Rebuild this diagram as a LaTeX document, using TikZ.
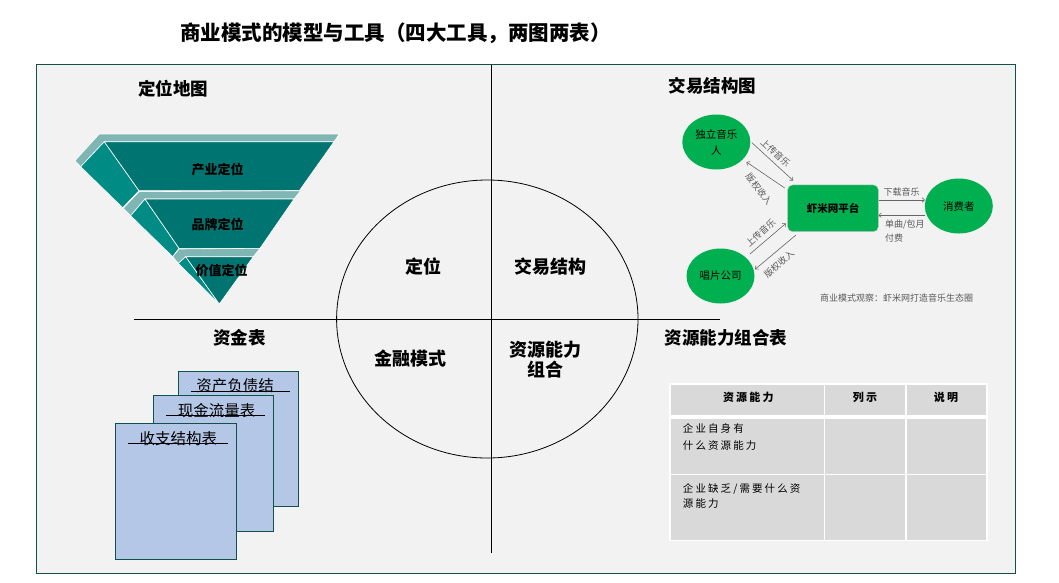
\documentclass[tikz,border=0pt]{standalone}
\usepackage{fontspec}
\setmainfont{Noto Sans CJK SC}
\newfontfamily\tabfont[LetterSpace=20]{Noto Sans CJK SC}
\usetikzlibrary{arrows.meta,shapes.geometric}
\definecolor{frameteal}{RGB}{18,80,74}
\definecolor{panel}{RGB}{242,242,242}
\definecolor{tealdark}{RGB}{0,116,112}
\definecolor{tealside}{RGB}{0,140,132}
\definecolor{teallight}{RGB}{127,181,178}
\definecolor{xiami}{RGB}{0,176,80}
\definecolor{sheet}{RGB}{180,199,231}
\definecolor{cell}{RGB}{217,217,217}
\tikzset{
  head/.style={font=\bfseries\fontsize{17.5}{20}\selectfont},
  core/.style={font=\bfseries\fontsize{18}{19.3}\selectfont,align=center},
  layer/.style={draw=white,line width=0.6pt},
  party/.style={ellipse,fill=xiami,minimum width=68pt,minimum height=55pt,inner sep=0pt,align=center,font=\fontsize{10.5}{16}\selectfont},
  flow/.style={draw=black!60,line width=0.6pt,-{To[length=3pt,width=5pt]}},
  flowtext/.style={text=black!65,font=\fontsize{9}{14}\selectfont,inner sep=0pt},
  bill/.style={draw=frameteal,fill=sheet,line width=0.8pt,inner sep=0pt},
  billtext/.style={font=\fontsize{15.5}{17}\selectfont,inner sep=0pt},
  cellhead/.style={font=\tabfont\bfseries\fontsize{11}{13}\selectfont,inner sep=0pt},
  celltext/.style={font=\tabfont\fontsize{10.5}{17.7}\selectfont,inner sep=0pt,align=left,anchor=north west}
}
\begin{document}
\begin{tikzpicture}[x=1pt,y=-1pt]
	\useasboundingbox (0,0) rectangle (1059,582);
	\node[font=\bfseries\fontsize{20.5}{22}\selectfont] (title) at (395.5,33) {商业模式的模型与工具（四大工具，两图两表）};
	\draw[frameteal,fill=panel,line width=1.2pt] (36.5,64.5) rectangle (1015.5,573.5);
	% quadrants
	\draw[line width=0.9pt] (491,65) -- (491,552.7);
	\draw[line width=0.9pt] (134,319.5) -- (720,319.5);
	\draw[line width=0.8pt] (487.3,319) ellipse (150.7 and 139);
	\node[core] (pos) at (423.5,266.7) {定位};
	\node[core] (deal) at (550,266.7) {交易结构};
	\node[core] (fin) at (410.3,358.3) {金融模式};
	\node[core] (res) at (545,359.7) {资源能力\\组合};
	\node[head] (posmap) at (173,89) {定位地图};
	\node[head] (dealmap) at (712.5,86) {交易结构图};
	\node[head] (fund) at (239.5,338) {资金表};
	\node[head] (restab) at (726,338) {资源能力组合表};
	% positioning pyramid
	\fill[teallight,layer] (75,160.7) -- (99.3,134) -- (339.3,134) -- (334,141.7) -- (104.3,141.7) -- (80.7,166.7) -- cycle;
	\fill[tealside,layer] (80.7,166.7) -- (104.3,141.7) -- (139,190.7) -- (122.7,207.7) -- cycle;
	\fill[tealdark,layer] (104.3,141.7) -- (334,141.7) -- (299.3,190.7) -- (139,190.7) -- cycle;
	\fill[teallight,layer] (123.3,208.3) -- (139,191.7) -- (300.7,190.7) -- (294,199) -- (145,199) -- (130.7,215.7) -- cycle;
	\fill[tealside,layer] (130.7,215.7) -- (145,199) -- (179,248.3) -- (172.7,256.7) -- cycle;
	\fill[tealdark,layer] (145,199) -- (294,199) -- (260,248.3) -- (179,248.3) -- cycle;
	\fill[teallight,layer] (172.7,256.7) -- (179,249) -- (260,248.3) -- (253.3,256.7) -- (185.7,256.7) -- (178.3,263.3) -- cycle;
	\fill[tealside,layer] (178.3,263.3) -- (185.7,256.7) -- (219.3,304) -- cycle;
	\fill[tealdark,layer] (185.7,256.7) -- (253.3,256.7) -- (219.3,304) -- cycle;
	\node[font=\bfseries\fontsize{13}{15}\selectfont] (industry) at (217.7,170) {产业定位};
	\node[font=\bfseries\fontsize{13}{15}\selectfont] (brand) at (217.7,224.3) {品牌定位};
	\node[font=\bfseries\fontsize{13}{15}\selectfont] (value) at (221.7,270.7) {价值定位};
	% deal structure
	\node[party] (indie) at (716.3,142) {独立音乐\\人};
	\node[party] (records) at (720.5,276) {唱片公司};
	\node[party] (consumer) at (958.8,206) {消费者};
	\node[rectangle,rounded corners=5pt,fill=xiami,draw=black!25,minimum width=90.7pt,minimum height=46.7pt,font=\bfseries\fontsize{10.5}{12}\selectfont] (plat) at (833,208.3) {虾米网平台};
	\draw[flow] ([shift={(1.4,0.7)}]indie.east) -- ([shift={(5.6,-4.3)}]plat.north west);
	\draw[flow] ([shift={(-2.7,3.3)}]plat.north west) -- ([shift={(3.9,2.3)}]indie.-34);
	\draw[flow] ([shift={(0,-8.3)}]plat.east) -- ([shift={(0.2,-6)}]consumer.west);
	\draw[flow] ([shift={(0,9.3)}]consumer.west) -- ([shift={(0,7)}]plat.east);
	\draw[flow] ([shift={(4.4,-3.1)}]records.37) -- ([shift={(-1.7,-8.4)}]plat.south west);
	\draw[flow] ([shift={(8.3,3.3)}]plat.south west) -- ([shift={(1.4,-0.3)}]records.11);
	\node[flowtext,rotate=-42] (up1) at (775.5,152.5) {上传音乐};
	\node[flowtext,rotate=-52] (roy1) at (759,189) {版权收入};
	\node[flowtext] (down) at (901.7,192.3) {下载音乐};
	\node[flowtext,align=left,anchor=north west] (pay) at (885,219.8) {单曲/包月\\付费};
	\node[flowtext,rotate=42] (up2) at (760.5,233) {上传音乐};
	\node[flowtext,rotate=41] (roy2) at (779,264) {版权收入};
	\node[flowtext] (note) at (896.7,298.3) {商业模式观察：虾米网打造音乐生态圈};
	% fund sheets
	\node[bill,minimum width=120.4pt,minimum height=135pt] (balance) at (238.5,438.5) {};
	\node[billtext] (balancet) at (235,386) {资产负债结};
	\draw[line width=0.8pt] (190.7,391) -- (290,391);
	\node[bill,minimum width=120pt,minimum height=136.3pt] (cash) at (213.3,463.2) {};
	\node[billtext] (casht) at (216.7,410.7) {现金流量表};
	\draw[line width=0.8pt] (166,415.3) -- (265,415.3);
	\node[bill,minimum width=121.7pt,minimum height=136pt] (income) at (175.9,491.3) {};
	\node[billtext] (incomet) at (178.3,438.3) {收支结构表};
	\draw[line width=0.8pt] (128.3,443.3) -- (227.7,443.3);
	% resource table
	\fill[white] (669,383.3) rectangle (987.7,541);
	\fill[cell] (670.5,385) rectangle (823.5,414.5);
	\fill[cell] (825,385) rectangle (905,414.5);
	\fill[cell] (906.5,385) rectangle (986.2,414.5);
	\fill[cell] (670.5,419) rectangle (823.5,473.5);
	\fill[cell] (825,419) rectangle (905,473.5);
	\fill[cell] (906.5,419) rectangle (986.2,473.5);
	\fill[cell] (670.5,475) rectangle (823.5,539.5);
	\fill[cell] (825,475) rectangle (905,539.5);
	\fill[cell] (906.5,475) rectangle (986.2,539.5);
	\node[cellhead] (hres) at (748.3,397.7) {资源能力};
	\node[cellhead] (hlist) at (865,397.7) {列示};
	\node[cellhead] (hnote) at (946,397.7) {说明};
	\node[celltext] (own) at (682.7,423) {企业自身有\\什么资源能力};
	\node[celltext,font=\tabfont\fontsize{10.5}{15}\selectfont] (lack) at (682.7,483) {企业缺乏/需要什么资\\源能力};
\end{tikzpicture}
\end{document}
